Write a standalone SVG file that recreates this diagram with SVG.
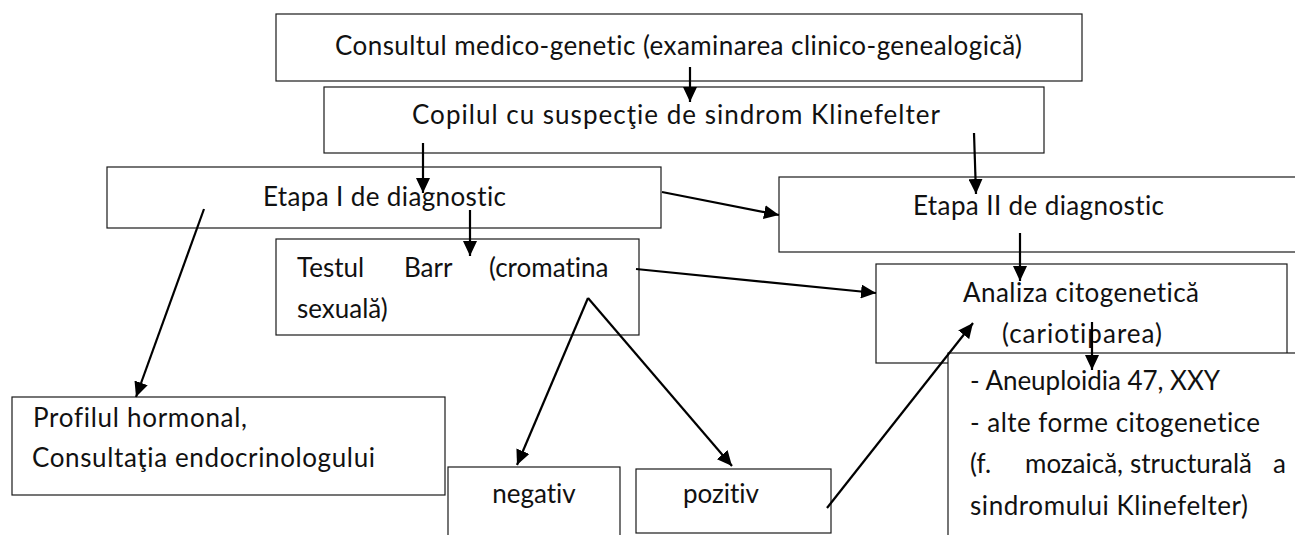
<svg xmlns="http://www.w3.org/2000/svg" width="1295" height="535" viewBox="0 0 1295 535">
<style>
.box{fill:#fff;stroke:#1a1a1a;stroke-width:1.2}
.t{font-family:Lato,"Liberation Sans",sans-serif;font-size:26px;fill:#111;font-variant-ligatures:none;font-feature-settings:"liga" 0,"clig" 0}
.c{stroke:#000;stroke-width:2.2;fill:none;marker-end:url(#ah)}
</style>
<defs>
<marker id="ah" markerUnits="userSpaceOnUse" markerWidth="15" markerHeight="14" refX="15" refY="7" orient="auto">
<path d="M0,0 L15,7 L0,14 z" fill="#000"/>
</marker>
</defs>
<rect width="1295" height="535" fill="#fff"/>
<g id="n1"><rect class="box" x="276" y="14" width="806" height="67"/>
<text class="t" x="335" y="55" textLength="687">Consultul medico-genetic (examinarea clinico-genealogică)</text></g>
<g id="n2"><rect class="box" x="324" y="87" width="720" height="66"/>
<text class="t" x="412" y="124" textLength="528">Copilul cu suspecţie de sindrom Klinefelter</text></g>
<g id="n3"><rect class="box" x="107" y="167" width="554" height="61"/>
<text class="t" x="263" y="206" textLength="243">Etapa I de diagnostic</text></g>
<g id="n4"><rect class="box" x="779" y="177" width="520" height="75"/>
<text class="t" x="913" y="215" textLength="251">Etapa II de diagnostic</text></g>
<g id="n5"><rect class="box" x="276" y="239" width="363" height="96"/>
<text class="t" y="277"><tspan x="297">Testul</tspan><tspan x="404">Barr</tspan><tspan x="489">(cromatina</tspan></text>
<text class="t" x="297" y="318">sexuală)</text></g>
<g id="n6"><rect class="box" x="876" y="264" width="411" height="99"/>
<text class="t" x="963" y="302" textLength="236">Analiza citogenetică</text>
<text class="t" x="1002" y="343" textLength="160">(cariotiparea)</text></g>
<g id="n7"><rect class="box" x="948" y="353" width="360" height="200"/>
<text class="t" x="970" y="390" textLength="250">- Aneuploidia 47, XXY</text>
<text class="t" x="970" y="432" textLength="290">- alte forme citogenetice</text>
<text class="t" y="473"><tspan x="970">(f.</tspan><tspan x="1025">mozaică,</tspan><tspan x="1130">structurală</tspan><tspan x="1273">a</tspan></text>
<text class="t" x="970" y="515" textLength="278">sindromului Klinefelter)</text></g>
<g id="n8"><rect class="box" x="12" y="397" width="433" height="98"/>
<text class="t" x="33" y="427" textLength="214">Profilul hormonal,</text>
<text class="t" x="32" y="467" textLength="343">Consultaţia endocrinologului</text></g>
<g id="n9"><rect class="box" x="448" y="467" width="172" height="80"/>
<text class="t" x="534" y="503" text-anchor="middle">negativ</text></g>
<g id="n10"><rect class="box" x="636" y="469" width="195" height="64"/>
<text class="t" x="721" y="503" text-anchor="middle">pozitiv</text></g>
<g id="connectors">
<line class="c" x1="690" y1="67" x2="690" y2="102"/>
<line class="c" x1="423" y1="143" x2="423" y2="193"/>
<line class="c" x1="974" y1="133" x2="976" y2="194"/>
<line class="c" x1="662" y1="192" x2="779" y2="215"/>
<line class="c" x1="1020" y1="233" x2="1020" y2="281"/>
<line class="c" x1="470" y1="210" x2="470" y2="256"/>
<line class="c" x1="636" y1="269" x2="876" y2="293"/>
<line class="c" x1="1092" y1="322" x2="1092" y2="370"/>
<line class="c" x1="204" y1="209" x2="136" y2="397"/>
<line class="c" x1="588" y1="298" x2="517" y2="465"/>
<line class="c" x1="588" y1="298" x2="732" y2="466"/>
<line class="c" x1="827" y1="508" x2="973" y2="323"/>
</g>
</svg>
